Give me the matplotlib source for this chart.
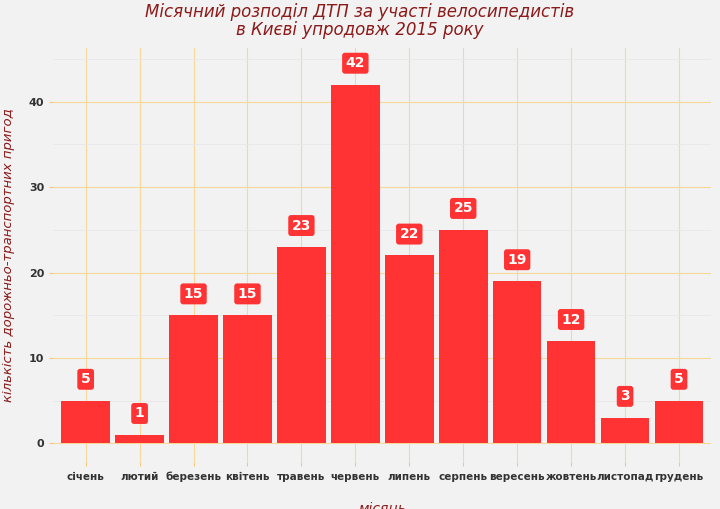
import matplotlib
matplotlib.use("Agg")
import matplotlib.pyplot as plt

months = ["січень","лютий","березень","квітень","травень","червень","липень","серпень","вересень","жовтень","листопад","грудень"]
counts = [5,1,15,15,23,42,22,25,19,12,3,5]

fig = plt.figure(figsize=(7.2,5.09), dpi=100, facecolor="#f2f2f2")
ax = fig.add_axes([0.074, 0.092, 0.914, 0.814])
ax.set_facecolor("#f2f2f2")
x = list(range(1, 13))
ax.bar(x, counts, width=0.9, color="#ff3333", zorder=3)
for xi, v in zip(x, counts):
    ax.text(xi, v + 2.5, str(v), ha="center", va="center", color="white", fontsize=10,
            fontweight="bold", zorder=4,
            bbox=dict(boxstyle="round,pad=0.25,rounding_size=0.2", fc="#ff3333", ec="none"))
ax.set_xlim(0.4, 12.6)
ax.set_ylim(-2.2, 46.3)
ax.set_xticks(x)
ax.set_xticklabels(months, fontsize=7.5, fontweight="bold", color="#333333")
ax.set_yticks([0,10,20,30,40])
ax.set_yticks([5,15,25,35,45], minor=True)
ax.tick_params(axis="y", labelsize=8, labelcolor="#333333", length=3, color="#f5c77e")
ax.tick_params(axis="y", which="minor", length=0)
ax.tick_params(axis="x", length=3, color="#f5c77e", pad=4)
for lab in ax.get_yticklabels():
    lab.set_fontweight("bold")
ax.grid(True, which="major", color="#f8d89a", lw=0.8, zorder=0)
ax.grid(True, which="minor", axis="y", color="#e8e8e8", lw=0.6, zorder=0)
for s in ax.spines.values():
    s.set_visible(False)
ax.set_xlabel("місяць", fontsize=10, style="italic", color="#8b1a1a", labelpad=14)
ax.set_ylabel("кількість дорожньо-транспортних пригод", fontsize=9.5, style="italic", color="#8b1a1a", labelpad=10)
fig.suptitle("Місячний розподіл ДТП за участі велосипедистів\nв Києві упродовж 2015 року",
             fontsize=12, style="italic", color="#8b1a1a", y=0.995, linespacing=1.0)
fig.savefig("out.png", dpi=100, facecolor=fig.get_facecolor())
